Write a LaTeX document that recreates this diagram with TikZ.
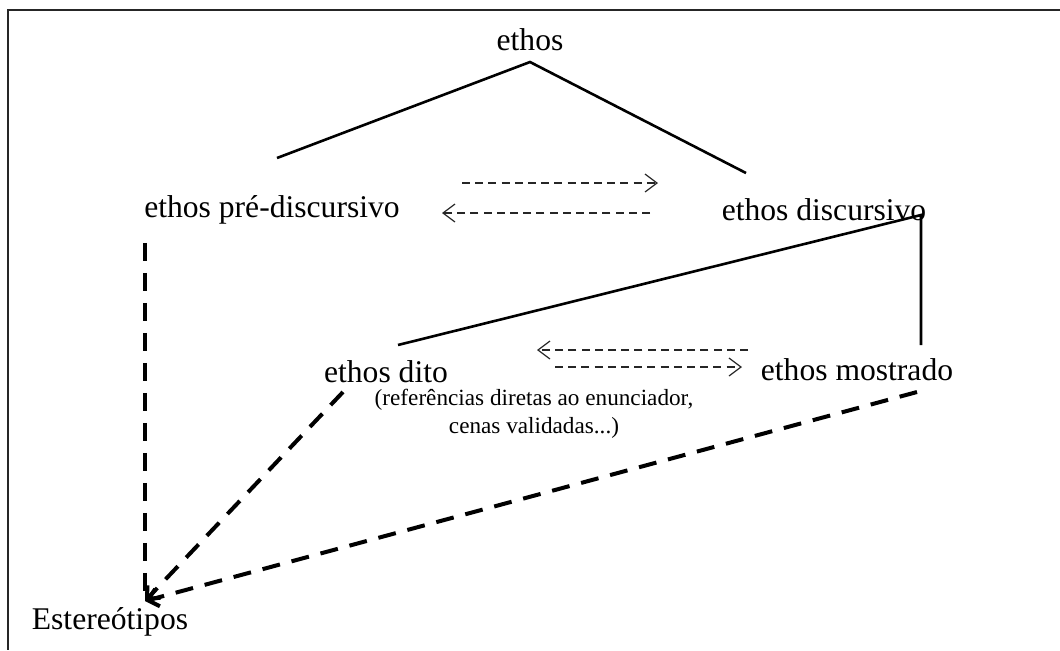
\documentclass[tikz,border=0pt]{standalone}
\usepackage{fontspec}
\setmainfont{Liberation Serif}
\usetikzlibrary{arrows.meta}

\begin{document}
\begin{tikzpicture}[x=0.5pt,y=-0.5pt,
  label/.style={inner sep=0pt,font=\fontsize{15.8}{19}\selectfont},
  note/.style={inner sep=0pt,align=center,font=\fontsize{11.6}{14}\selectfont},
  tree/.style={line width=1.3pt},
  swap/.style={draw=black!85,line width=0.6pt,dash pattern=on 4pt off 2.6pt,-{Straight Barb[length=6pt,width=9pt]}},
  stereo/.style={line width=2pt,dash pattern=on 9pt off 6pt}]
\useasboundingbox (0,0) rectangle (1060,650);
\draw[line width=1pt,black!85] (1060,10) -- (8,10) -- (8,650); %frame
\node[label] (ethos) at (530,40) {ethos};
\node[label] (pre) at (272,210) {ethos pré-discursivo};
\node[label] (disc) at (824,210) {ethos discursivo};
\node[label] (dito) at (386,372) {ethos dito};
\node[label] (most) at (857,370) {ethos mostrado};
\node[note] (ref) at (534,414) {(referências diretas ao enunciador,\\cenas validadas...)};
\node[label] (est) at (110,622) {Estereótipos};
\coordinate (top) at (530,62);
\coordinate (preup) at (277,158);
\coordinate (discup) at (746,173);
\coordinate (discend) at (921,215);
\coordinate (ditoup) at (398,345);
\coordinate (mostup) at (921,345);
\coordinate (sink) at (145,601);
%tree
\draw[tree] (preup) -- (top) -- (discup);
\draw[tree] (ditoup) -- (discend) -- (mostup);
%exchange
\draw[swap] (462,183) coordinate (a1) -- (658,183) coordinate (a2);
\draw[swap] (650,213) coordinate (b1) -- (442,213) coordinate (b2);
\draw[swap] (748,350) coordinate (c1) -- (537,350) coordinate (c2);
\draw[swap] (555,367) coordinate (d1) -- (742,367) coordinate (d2);
%stereotypes
\draw[stereo] (pre.south -| sink) ++(0,18) -- (sink);
\draw[stereo,-{Straight Barb[length=5pt,width=9pt]}] (343,392) coordinate (ditolow) -- (sink);
\draw[stereo,-{Straight Barb[length=5pt,width=9pt]}] (917,392) coordinate (mostlow) -- (sink);
\end{tikzpicture}
\end{document}
